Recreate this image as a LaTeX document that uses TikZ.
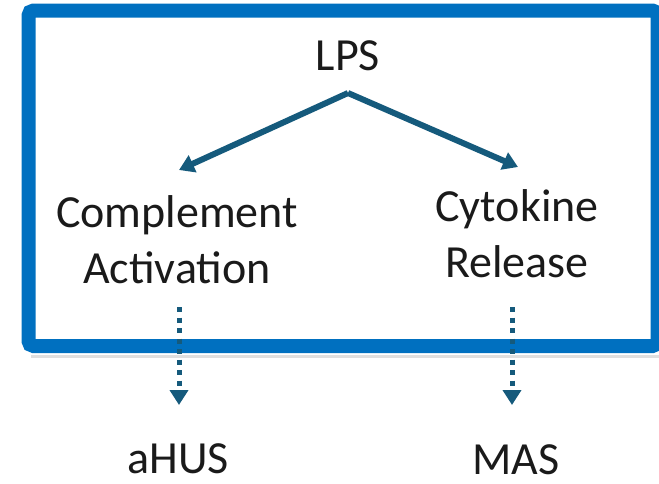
\documentclass[tikz,border=0pt]{standalone}
\usepackage{fontspec}
\setmainfont{Carlito}
\usetikzlibrary{arrows.meta}
\definecolor{boxblue}{HTML}{0070C0}
\definecolor{arrowteal}{HTML}{155A7C}
\definecolor{txt}{HTML}{1A1A1A}
\tikzset{
  lbl/.style={font=\fontsize{46}{56}\selectfont, text=txt, align=center, inner sep=0pt},
  framebox/.style={draw=boxblue, line width=14pt, rounded corners=5pt},
  solidarrow/.style={draw=arrowteal, line width=6pt, -{Triangle[length=15pt,width=18pt]}},
  dotarrow/.style={draw=arrowteal, line width=5pt, dash pattern=on 5pt off 5.5pt, -{Triangle[length=15pt,width=18pt]}}
}
\begin{document}
\begin{tikzpicture}[x=1pt,y=-1pt]
\useasboundingbox (0,0) rectangle (659,483);
% shadow and frame
\draw[black!25, line width=3pt, opacity=0.5] (31,356) -- (659,356);
\draw[framebox] (28.5,10.5) rectangle (657.5,346);
% labels
\node[lbl, anchor=base] (lps) at (348,70) {LPS};
\node[lbl, anchor=base] (comp) at (177,283) {Complement\\Activation};
\node[lbl, anchor=base] (cyto) at (517,277) {Cytokine\\Release};
\node[lbl, anchor=base] (ahus) at (178,473) {aHUS};
\node[lbl, anchor=base] (mas) at (516,474) {MAS};
% connectors
\coordinate (top) at (348,93);
\coordinate (lefttip) at (179,170);
\coordinate (righttip) at (518,167);
\draw[solidarrow] (top) -- (lefttip);
\draw[solidarrow] (top) -- (righttip);
\coordinate (d1s) at (179,307);
\coordinate (d1e) at (179,405);
\coordinate (d2s) at (512,307);
\coordinate (d2e) at (512,405);
\draw[dotarrow] (d1s) -- (d1e);
\draw[dotarrow] (d2s) -- (d2e);
\end{tikzpicture}
\end{document}
